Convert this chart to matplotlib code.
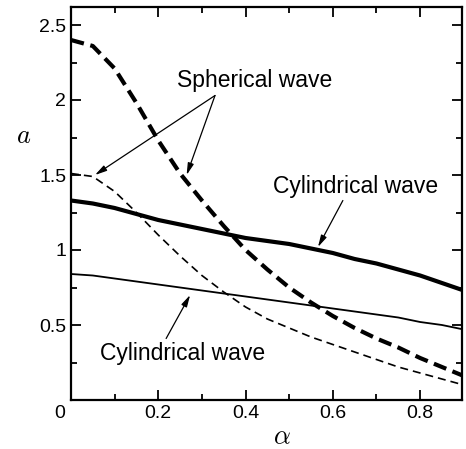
import matplotlib.pyplot as plt
from matplotlib.ticker import MultipleLocator

plt.rcParams['font.family'] = ['Liberation Sans', 'DejaVu Sans']
plt.rcParams['mathtext.fontset'] = 'cm'

# values
alpha = [0.0, 0.05, 0.1, 0.15, 0.2, 0.25, 0.3, 0.35, 0.4, 0.45, 0.5, 0.55, 0.6, 0.65, 0.7, 0.75, 0.8, 0.85, 0.9]
sph_thick = [2.40, 2.36, 2.21, 1.98, 1.73, 1.51, 1.33, 1.16, 1.00, 0.87, 0.75, 0.65, 0.56, 0.48, 0.41, 0.35, 0.28, 0.22, 0.16]
sph_thin = [1.51, 1.49, 1.39, 1.25, 1.10, 0.96, 0.83, 0.72, 0.62, 0.54, 0.48, 0.42, 0.37, 0.32, 0.27, 0.22, 0.18, 0.14, 0.10]
cyl_thick = [1.33, 1.31, 1.28, 1.24, 1.20, 1.17, 1.14, 1.11, 1.08, 1.06, 1.04, 1.01, 0.98, 0.94, 0.91, 0.87, 0.83, 0.78, 0.73]
cyl_thin = [0.84, 0.83, 0.81, 0.79, 0.77, 0.75, 0.73, 0.71, 0.69, 0.67, 0.65, 0.63, 0.61, 0.59, 0.57, 0.55, 0.52, 0.50, 0.47]

xticks = [0, 0.2, 0.4, 0.6, 0.8]
xticklabels = ['', '0.2', '0.4', '0.6', '0.8']
yticks = [0.5, 1, 1.5, 2, 2.5]
yticklabels = ['0.5', '1', '1.5', '2', '2.5']

fig = plt.figure(figsize=(4.66, 4.49), dpi=100)
ax = fig.add_axes([71/466, 49/449, 391/466, 393/449])

ax.plot(alpha, sph_thick, color='black', lw=3.0, dashes=(3.2, 1.6))
ax.plot(alpha, sph_thin, color='black', lw=1.2, dashes=(4.8, 3))
ax.plot(alpha, cyl_thick, color='black', lw=3.0)
ax.plot(alpha, cyl_thin, color='black', lw=1.3)

ax.set_xlim(0, 0.896)
ax.set_ylim(0, 2.62)
ax.xaxis.set_minor_locator(MultipleLocator(0.1))
ax.yaxis.set_minor_locator(MultipleLocator(0.25))
ax.set_xticks(xticks)
ax.set_xticklabels(xticklabels)
ax.set_yticks(yticks)
ax.set_yticklabels(yticklabels)
ax.tick_params(which='both', direction='in', top=True, right=True, labelsize=14, width=1.3)
ax.tick_params(which='major', length=7)
ax.tick_params(which='minor', length=4)
for s in ax.spines.values():
    s.set_linewidth(1.6)

# shared corner zero
ax.annotate('0', xy=(-0.025, 0), xycoords=('data', 'axes fraction'),
            xytext=(0, -3.5), textcoords='offset points',
            fontsize=14, ha='center', va='top')

ax.set_xlabel(r'$\alpha$', fontsize=19)
ax.xaxis.label.set(ha='center', va='center')
ax.xaxis.set_label_coords(0.54, -0.094)
ax.set_ylabel(r'$a$', fontsize=19, rotation=0)
ax.yaxis.label.set(ha='center', va='center')
ax.yaxis.set_label_coords(-0.12, 0.672)

arr = dict(arrowstyle='-|>,head_length=0.7,head_width=0.18', color='black',
           lw=0.9, mutation_scale=10, shrinkA=0, shrinkB=0)
ax.text(0.42, 2.09, 'Spherical wave', fontsize=16.5, ha='center', va='baseline')
ax.annotate('', xy=(0.055, 1.50), xytext=(0.33, 2.03), arrowprops=arr)
ax.annotate('', xy=(0.265, 1.50), xytext=(0.33, 2.03), arrowprops=arr)
ax.text(0.653, 1.38, 'Cylindrical wave', fontsize=16.5, ha='center', va='baseline')
ax.annotate('', xy=(0.566, 1.02), xytext=(0.623, 1.33), arrowprops=arr)
ax.text(0.255, 0.267, 'Cylindrical wave', fontsize=16.5, ha='center', va='baseline')
ax.annotate('', xy=(0.273, 0.70), xytext=(0.218, 0.41), arrowprops=arr)

fig.savefig('out.png', dpi=100, facecolor='white')
